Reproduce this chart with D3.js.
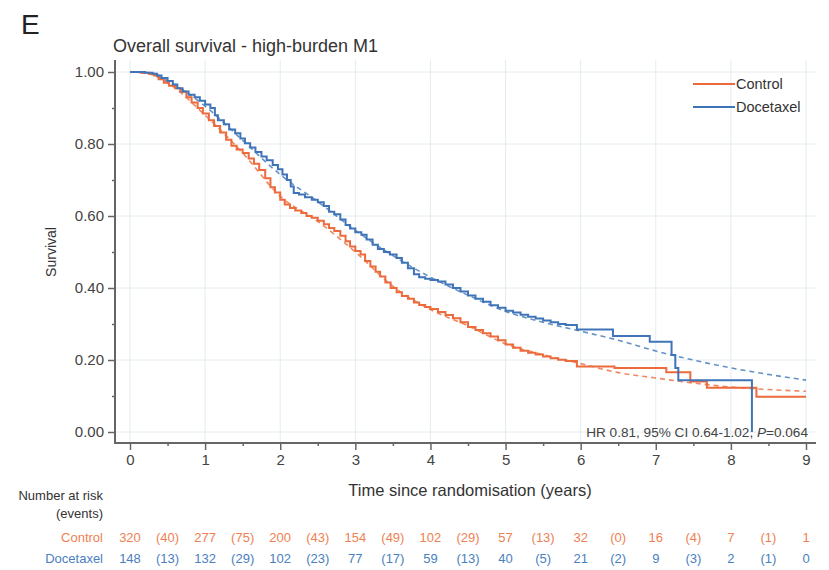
<!DOCTYPE html>
<html><head><meta charset="utf-8">
<script src="https://cdn.jsdelivr.net/npm/d3@7"></script>
<style>
body{margin:0;background:#fff;}
svg text{font-family:"Liberation Sans",Arial,Helvetica,sans-serif;}
</style></head>
<body><svg id="c" width="829" height="570"></svg>
<script>
// ---- data ----
const xTicks = [0,1,2,3,4,5,6,7,8,9];
const yTicks = [0,0.2,0.4,0.6,0.8,1.0];
const seriesNames = ["Control","Docetaxel"];
const controlKM = [[0,1.0],[0.15,0.998],[0.25,0.995],[0.32,0.99],[0.38,0.98],[0.45,0.97],[0.52,0.962],[0.6,0.955],[0.67,0.945],[0.75,0.93],[0.82,0.915],[0.9,0.9],[0.97,0.885],[1.05,0.866],[1.12,0.85],[1.2,0.832],[1.28,0.812],[1.35,0.795],[1.42,0.785],[1.5,0.775],[1.58,0.76],[1.65,0.745],[1.72,0.728],[1.8,0.705],[1.87,0.68],[1.93,0.665],[2.0,0.645],[2.06,0.632],[2.13,0.622],[2.2,0.615],[2.28,0.608],[2.35,0.6],[2.42,0.595],[2.5,0.587],[2.58,0.577],[2.65,0.567],[2.72,0.558],[2.8,0.545],[2.87,0.53],[2.93,0.515],[3.0,0.503],[3.07,0.493],[3.13,0.475],[3.2,0.46],[3.27,0.445],[3.33,0.432],[3.4,0.415],[3.47,0.4],[3.55,0.388],[3.62,0.378],[3.7,0.37],[3.78,0.36],[3.85,0.353],[3.93,0.347],[4.0,0.342],[4.1,0.333],[4.2,0.325],[4.3,0.316],[4.4,0.305],[4.5,0.292],[4.6,0.283],[4.7,0.274],[4.8,0.265],[4.9,0.255],[5.0,0.243],[5.1,0.234],[5.2,0.226],[5.3,0.22],[5.4,0.215],[5.5,0.21],[5.6,0.205],[5.7,0.201],[5.8,0.197],[5.95,0.182],[6.45,0.178],[7.14,0.166],[7.46,0.14],[7.68,0.123],[8.34,0.098],[9.0,0.098]];
const docetaxelKM = [[0,1.0],[0.2,0.998],[0.3,0.995],[0.36,0.99],[0.42,0.983],[0.5,0.975],[0.57,0.965],[0.63,0.955],[0.7,0.946],[0.78,0.937],[0.86,0.93],[0.93,0.92],[1.0,0.91],[1.07,0.9],[1.13,0.88],[1.17,0.866],[1.25,0.855],[1.32,0.84],[1.4,0.83],[1.47,0.815],[1.53,0.802],[1.6,0.79],[1.67,0.778],[1.75,0.765],[1.82,0.755],[1.9,0.742],[1.97,0.73],[2.03,0.715],[2.09,0.7],[2.14,0.682],[2.18,0.664],[2.25,0.66],[2.33,0.652],[2.42,0.645],[2.5,0.638],[2.58,0.628],[2.65,0.612],[2.72,0.605],[2.8,0.59],[2.87,0.575],[2.93,0.565],[3.0,0.555],[3.08,0.548],[3.15,0.535],[3.23,0.52],[3.3,0.508],[3.38,0.5],[3.46,0.493],[3.55,0.483],[3.62,0.47],[3.7,0.455],[3.78,0.438],[3.85,0.43],[3.93,0.426],[4.0,0.422],[4.1,0.418],[4.2,0.41],[4.3,0.4],[4.4,0.39],[4.5,0.379],[4.6,0.37],[4.7,0.362],[4.8,0.352],[4.9,0.345],[5.0,0.337],[5.1,0.332],[5.2,0.326],[5.3,0.32],[5.4,0.315],[5.5,0.31],[5.6,0.305],[5.7,0.3],[5.8,0.297],[5.95,0.285],[6.43,0.267],[6.92,0.251],[7.21,0.214],[7.26,0.178],[7.3,0.144],[8.28,0.0]];
const controlFit = [[0,1],[0.25,0.995],[0.5,0.97],[1,0.88],[1.5,0.775],[2,0.655],[2.5,0.585],[3,0.50],[3.5,0.405],[4,0.34],[4.5,0.295],[5,0.245],[5.5,0.215],[6,0.19],[6.5,0.165],[7,0.15],[7.5,0.136],[8,0.125],[8.5,0.118],[9,0.113]];
const docetaxelFit = [[0,1],[0.25,0.997],[0.5,0.975],[1,0.905],[1.5,0.81],[2,0.715],[2.5,0.64],[3,0.56],[3.5,0.49],[4,0.43],[4.5,0.38],[5,0.335],[5.5,0.305],[6,0.28],[6.5,0.255],[7,0.225],[7.5,0.20],[8,0.178],[8.5,0.16],[9,0.144]];
const controlRisk = ["320","277","200","154","102","57","32","16","7","1"];
const controlEvents = ["(40)","(75)","(43)","(49)","(29)","(13)","(0)","(4)","(1)"];
const docetaxelRisk = ["148","132","102","77","59","40","21","9","2","0"];
const docetaxelEvents = ["(13)","(29)","(23)","(17)","(13)","(5)","(2)","(3)","(1)"];

// ---- drawing ----
const colors = {Control:"#ec6a3c", Docetaxel:"#3f75b8"};
const textColors = {Control:"#ef7f52", Docetaxel:"#4a80c0"};
const svg = d3.select("#c");
const x = d3.scaleLinear().domain([0,9]).range([130,806]);
const y = d3.scaleLinear().domain([0,1]).range([432,72]);

svg.append("text").attr("x",21).attr("y",34).attr("font-size",28).attr("fill","#222").text("E");
svg.append("text").attr("x",113).attr("y",52).attr("font-size",18).attr("fill","#333").text("Overall survival - high-burden M1");

// grid
const grid = svg.append("g").attr("stroke","#e3ecf0").attr("stroke-width",1);
grid.selectAll("line.h").data(yTicks).join("line").attr("class","h")
  .attr("x1",116).attr("x2",815).attr("y1",d=>y(d)).attr("y2",d=>y(d));
grid.selectAll("line.v").data(xTicks).join("line").attr("class","v")
  .attr("x1",d=>x(d)).attr("x2",d=>x(d)).attr("y1",60).attr("y2",442);

// axes
const axisColor = "#666";
const yAxis = svg.append("g").attr("transform","translate(115,0)")
  .call(d3.axisLeft(y).tickValues(yTicks).tickFormat(d3.format(".2f")).tickSize(7).tickPadding(4));
const yMinor = svg.append("g").attr("transform","translate(115,0)")
  .call(d3.axisLeft(y).tickValues([0.1,0.3,0.5,0.7,0.9]).tickFormat("").tickSize(3));
const xAxis = svg.append("g").attr("transform","translate(0,443)")
  .call(d3.axisBottom(x).tickValues(xTicks).tickFormat(d3.format("d")).tickSize(7).tickPadding(4));
const xMinor = svg.append("g").attr("transform","translate(0,443)")
  .call(d3.axisBottom(x).tickValues([0.5,1.5,2.5,3.5,4.5,5.5,6.5,7.5,8.5]).tickFormat("").tickSize(3));
[yAxis,yMinor,xAxis,xMinor].forEach(g=>{
  g.select(".domain").remove();
  g.selectAll(".tick line").attr("stroke",axisColor).attr("stroke-width",1.5);
  g.selectAll(".tick text").attr("fill","#444").attr("font-size",15)
   .attr("font-family","'Liberation Sans',Arial,sans-serif");
});
svg.append("line").attr("x1",115).attr("x2",115).attr("y1",60).attr("y2",444)
  .attr("stroke",axisColor).attr("stroke-width",2);
svg.append("line").attr("x1",114).attr("x2",816).attr("y1",443).attr("y2",443)
  .attr("stroke",axisColor).attr("stroke-width",2);

svg.append("text").attr("transform","translate(56,252) rotate(-90)").attr("text-anchor","middle")
  .attr("font-size",14).attr("fill","#333").text("Survival");
svg.append("text").attr("x",470).attr("y",496).attr("text-anchor","middle")
  .attr("font-size",16.5).attr("fill","#333").text("Time since randomisation (years)");

// curves
const fitLine = d3.line().x(d=>x(d[0])).y(d=>y(d[1])).curve(d3.curveMonotoneX);
const kmLine = d3.line().x(d=>x(d[0])).y(d=>y(d[1])).curve(d3.curveStepAfter);
[["Control",controlFit],["Docetaxel",docetaxelFit]].forEach(([n,data])=>{
  svg.append("path").datum(data).attr("d",fitLine).attr("fill","none")
    .attr("stroke",colors[n]).attr("stroke-width",1.6).attr("stroke-dasharray","5,4").attr("opacity",0.8);
});
[["Control",controlKM],["Docetaxel",docetaxelKM]].forEach(([n,data])=>{
  svg.append("path").datum(data).attr("d",kmLine).attr("fill","none")
    .attr("stroke",colors[n]).attr("stroke-width",2);
});

// legend
seriesNames.forEach((n,i)=>{
  const ly = 84 + i*23;
  svg.append("line").attr("x1",693).attr("x2",735).attr("y1",ly).attr("y2",ly)
    .attr("stroke",colors[n]).attr("stroke-width",2);
  svg.append("text").attr("x",736).attr("y",ly+5).attr("font-size",14.5).attr("fill","#333").text(n);
});

// HR annotation
const hr = svg.append("text").attr("x",808).attr("y",437).attr("text-anchor","end")
  .attr("font-size",13.6).attr("fill","#444");
hr.append("tspan").text("HR 0.81, 95% CI 0.64-1.02, ");
hr.append("tspan").attr("font-style","italic").text("P");
hr.append("tspan").text("=0.064");

// risk table
svg.append("text").attr("x",103).attr("y",500).attr("text-anchor","end").attr("font-size",13).attr("fill","#333").text("Number at risk");
svg.append("text").attr("x",103).attr("y",518).attr("text-anchor","end").attr("font-size",13).attr("fill","#333").text("(events)");
[["Control",controlRisk,controlEvents,542],["Docetaxel",docetaxelRisk,docetaxelEvents,563]].forEach(([n,risk,ev,ry])=>{
  const g = svg.append("g").attr("fill",textColors[n]).attr("font-size",13);
  g.append("text").attr("x",103).attr("y",ry).attr("text-anchor","end").text(n);
  g.selectAll("text.r").data(risk).join("text").attr("class","r")
    .attr("x",(d,i)=>x(xTicks[i])).attr("y",ry).attr("text-anchor","middle").text(d=>d);
  g.selectAll("text.e").data(ev).join("text").attr("class","e")
    .attr("x",(d,i)=>x(xTicks[i]+0.5)).attr("y",ry).attr("text-anchor","middle").text(d=>d);
});
</script></body></html>
